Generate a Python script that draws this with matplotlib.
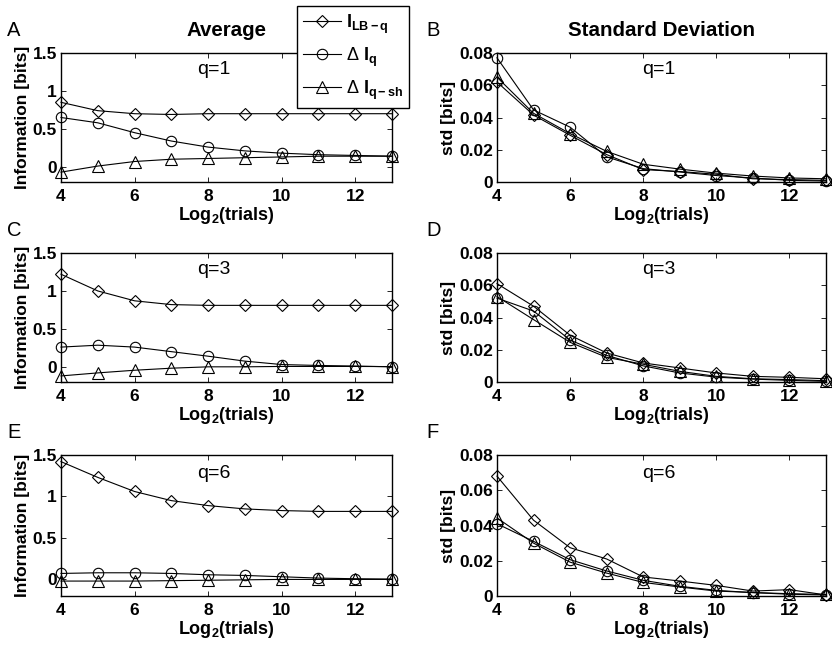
import matplotlib
matplotlib.use("Agg")
import matplotlib.pyplot as plt

plt.rcParams['font.family'] = ['Liberation Sans', 'DejaVu Sans']
plt.rcParams['mathtext.fontset'] = 'custom'
plt.rcParams['mathtext.rm'] = 'Liberation Sans'
plt.rcParams['mathtext.bf'] = 'Liberation Sans:bold'
plt.rcParams['mathtext.it'] = 'Liberation Sans:italic'
plt.rcParams['mathtext.default'] = 'bf'

log2_trials = [4, 5, 6, 7, 8, 9, 10, 11, 12, 13]
x_ticks = [4, 6, 8, 10, 12]

# Average information (bits)
avg_ilb_q1 = [0.85, 0.74, 0.70, 0.69, 0.70, 0.70, 0.70, 0.70, 0.70, 0.70]
avg_dI_q1 = [0.65, 0.58, 0.45, 0.34, 0.26, 0.21, 0.18, 0.16, 0.15, 0.14]
avg_dIsh_q1 = [-0.07, 0.01, 0.07, 0.10, 0.11, 0.12, 0.13, 0.14, 0.14, 0.14]

avg_ilb_q3 = [1.22, 1.00, 0.87, 0.82, 0.81, 0.81, 0.81, 0.81, 0.81, 0.81]
avg_dI_q3 = [0.26, 0.285, 0.26, 0.20, 0.14, 0.075, 0.03, 0.018, 0.01, 0.0]
avg_dIsh_q3 = [-0.12, -0.08, -0.045, -0.018, 0.0, 0.0, 0.005, 0.005, 0.005, 0.003]

avg_ilb_q6 = [1.42, 1.23, 1.06, 0.95, 0.89, 0.85, 0.83, 0.82, 0.82, 0.82]
avg_dI_q6 = [0.072, 0.08, 0.08, 0.072, 0.056, 0.048, 0.032, 0.016, 0.008, 0.004]
avg_dIsh_q6 = [-0.02, -0.02, -0.02, -0.015, -0.01, -0.005, 0.0, 0.0, 0.0, 0.0]

# Standard deviation (bits)
std_ilb_q1 = [0.062, 0.0415, 0.029, 0.017, 0.0077, 0.0065, 0.0048, 0.002, 0.0015, 0.001]
std_dI_q1 = [0.077, 0.0447, 0.034, 0.0156, 0.0083, 0.0062, 0.004, 0.0025, 0.001, 0.0006]
std_dIsh_q1 = [0.065, 0.0426, 0.030, 0.019, 0.011, 0.008, 0.0055, 0.0037, 0.0025, 0.002]

std_ilb_q3 = [0.061, 0.047, 0.029, 0.018, 0.0118, 0.0087, 0.0056, 0.0035, 0.0029, 0.002]
std_dI_q3 = [0.052, 0.044, 0.026, 0.0165, 0.010, 0.0056, 0.003, 0.0018, 0.001, 0.0004]
std_dIsh_q3 = [0.053, 0.0387, 0.0246, 0.0153, 0.011, 0.0066, 0.0035, 0.002, 0.0015, 0.0008]

std_ilb_q6 = [0.068, 0.043, 0.0274, 0.021, 0.0108, 0.0085, 0.006, 0.0028, 0.0036, 0.0006]
std_dI_q6 = [0.041, 0.031, 0.0206, 0.0142, 0.0089, 0.0055, 0.0032, 0.0019, 0.001, 0.0006]
std_dIsh_q6 = [0.0443, 0.030, 0.0192, 0.013, 0.0077, 0.0051, 0.0028, 0.002, 0.0013, 0.0009]

q_labels = ['q=1', 'q=3', 'q=6']
panel_letters = ['A', 'B', 'C', 'D', 'E', 'F']
legend_labels = [r'$I_{LB-q}$', r'Δ $I_{q}$', r'Δ $I_{q-sh}$']

avg_data = [(avg_ilb_q1, avg_dI_q1, avg_dIsh_q1),
            (avg_ilb_q3, avg_dI_q3, avg_dIsh_q3),
            (avg_ilb_q6, avg_dI_q6, avg_dIsh_q6)]
std_data = [(std_ilb_q1, std_dI_q1, std_dIsh_q1),
            (std_ilb_q3, std_dI_q3, std_dIsh_q3),
            (std_ilb_q6, std_dI_q6, std_dIsh_q6)]

W, H = 832, 648
fig = plt.figure(figsize=(W / 100, H / 100), dpi=100)

# axes positions in pixels: (left, top, right, bottom)
left_col = (61, 392)
right_col = (497, 826)
rows = [(53, 182), (253, 382), (455, 596)]

markers = ['D', 'o', '^']
msizes = [6.5, 7.5, 8]
lw = 0.8

TICK_FS = 12.5
LABEL_FS = 12.5
XLABEL_FS = 13
TITLE_FS = 14.8
LETTER_FS = 14.5
Q_FS = 14

def px_axes(l, t, r, b):
    return fig.add_axes([l / W, 1 - b / H, (r - l) / W, (b - t) / H])

def style(ax):
    ax.tick_params(direction='in', top=True, right=True, length=3.5, width=0.6,
                   labelsize=TICK_FS)
    ax.tick_params(axis='x', pad=5)
    ax.tick_params(axis='y', pad=3)
    for lab in ax.get_xticklabels() + ax.get_yticklabels():
        lab.set_fontweight('bold')
    for s in ax.spines.values():
        s.set_linewidth(1.0)

handles = []
for i in range(3):
    t, b = rows[i]
    # average
    ax = px_axes(left_col[0], t, left_col[1], b)
    for k in range(3):
        ln, = ax.plot(log2_trials, avg_data[i][k], color='black', lw=lw,
                      marker=markers[k], ms=msizes[k], mfc='none', mec='black',
                      mew=0.8, clip_on=False, zorder=3)
        if i == 0:
            handles.append(ln)
    ax.set_xlim(4, 13)
    ax.set_ylim(-0.2, 1.5)
    ax.set_xticks(x_ticks)
    ax.set_yticks([0, 0.5, 1, 1.5])
    ax.set_yticklabels(['0', '0.5', '1', '1.5'])
    style(ax)
    ax.set_ylabel('Information [bits]', fontsize=LABEL_FS, fontweight='bold', labelpad=2)
    ax.set_xlabel(r'Log$_2$(trials)', fontsize=XLABEL_FS, fontweight='bold', labelpad=1)
    ax.text(0.41, 0.87, q_labels[i], transform=ax.transAxes, fontsize=Q_FS,
            ha='left', va='center')
    fig.text(7 / W, 1 - (t - 22) / H, panel_letters[2 * i], fontsize=LETTER_FS,
             ha='left', va='center')
    if i == 0:
        ax.set_title('Average', fontsize=TITLE_FS, fontweight='bold', pad=12)

    # std
    ax2 = px_axes(right_col[0], t, right_col[1], b)
    for k in range(3):
        ax2.plot(log2_trials, std_data[i][k], color='black', lw=lw,
                 marker=markers[k], ms=msizes[k], mfc='none', mec='black',
                 mew=0.8, clip_on=False, zorder=3)
    ax2.set_xlim(4, 13)
    ax2.set_ylim(0, 0.08)
    ax2.set_xticks(x_ticks)
    ax2.set_yticks([0, 0.02, 0.04, 0.06, 0.08])
    ax2.set_yticklabels(['0', '0.02', '0.04', '0.06', '0.08'])
    style(ax2)
    ax2.set_ylabel('std [bits]', fontsize=LABEL_FS, fontweight='bold', labelpad=2)
    ax2.set_xlabel(r'Log$_2$(trials)', fontsize=XLABEL_FS, fontweight='bold', labelpad=1)
    ax2.text(0.44, 0.87, q_labels[i], transform=ax2.transAxes, fontsize=Q_FS,
             ha='left', va='center')
    fig.text(426 / W, 1 - (t - 22) / H, panel_letters[2 * i + 1], fontsize=LETTER_FS,
             ha='left', va='center')
    if i == 0:
        ax2.set_title('Standard Deviation', fontsize=TITLE_FS, fontweight='bold', pad=12)

leg = fig.legend(handles, legend_labels, loc='upper left',
                 bbox_to_anchor=(297 / W, 1 - 6 / H), bbox_transform=fig.transFigure,
                 fancybox=False, framealpha=1, edgecolor='black',
                 fontsize=13, handlelength=2.1, handletextpad=0.25,
                 labelspacing=0.55, borderpad=0.35, borderaxespad=0)
leg.get_frame().set_linewidth(1.0)
leg.set_zorder(10)

fig.savefig('out.png', dpi=100)
